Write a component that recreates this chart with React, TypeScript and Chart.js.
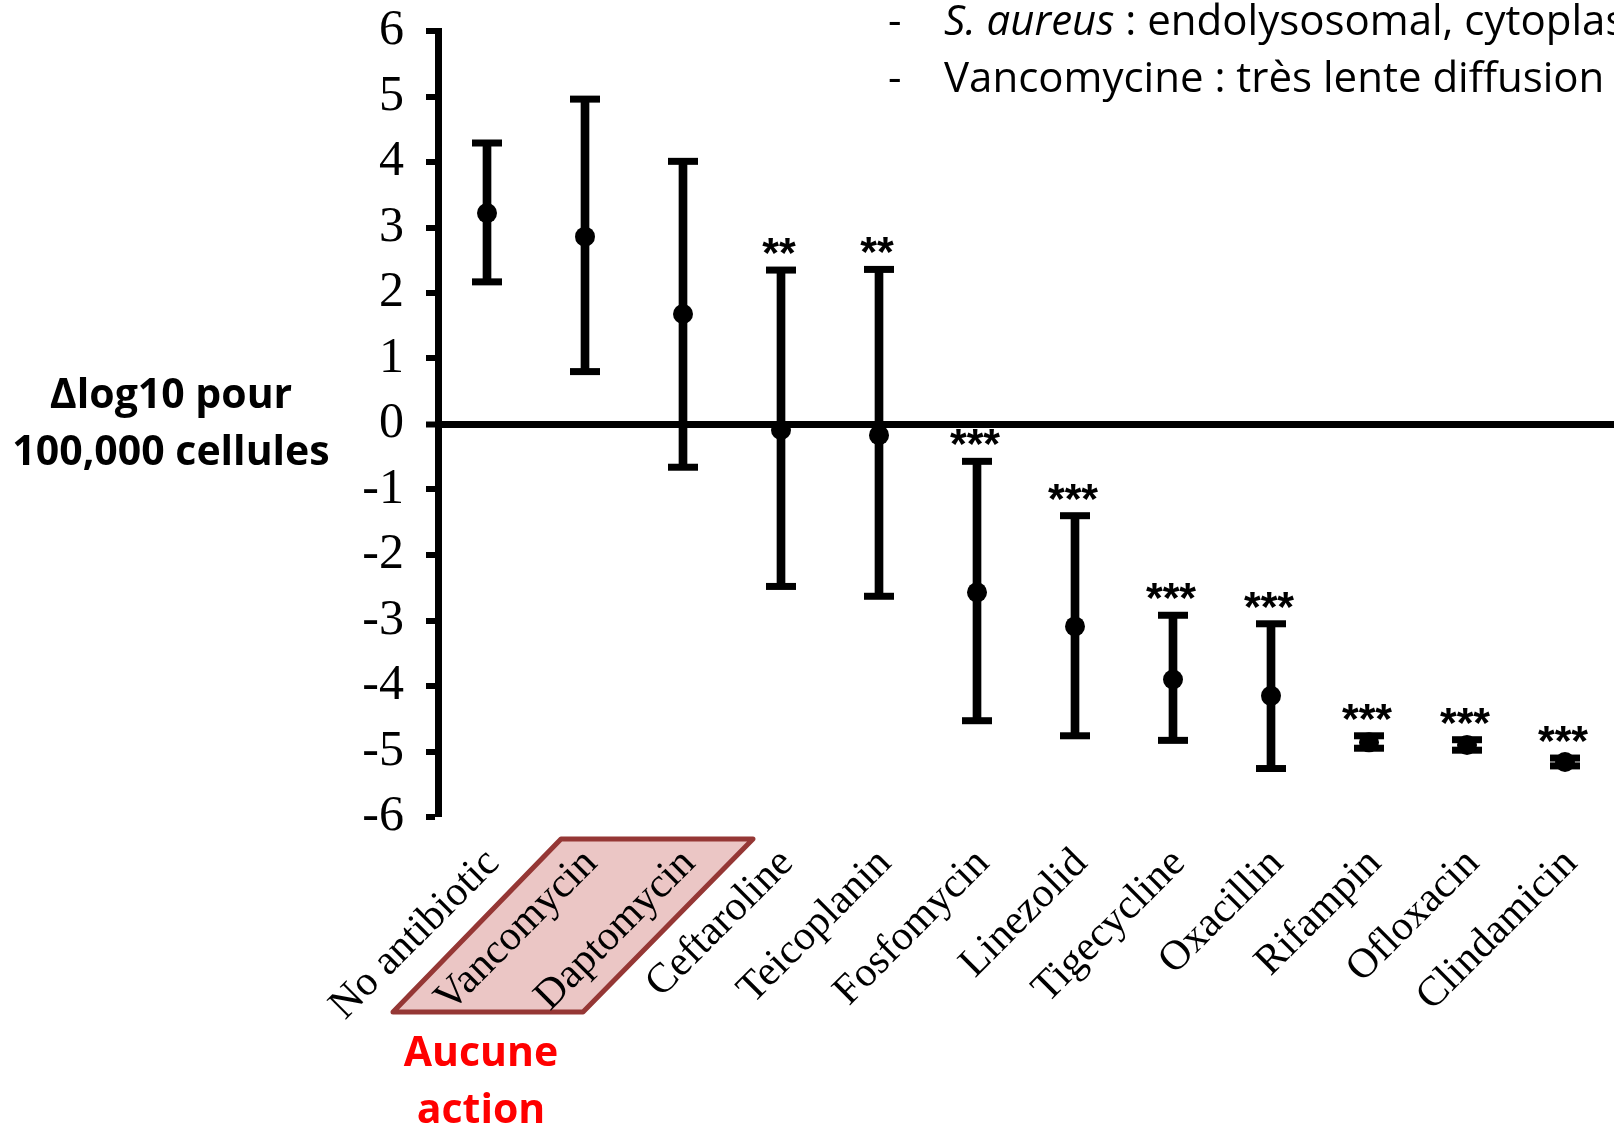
import React, { useEffect, useRef } from "react";
import { Chart, registerables } from "chart.js";

Chart.register(...registerables);

// ---- data ----
const categories = [
  "No antibiotic",
  "Vancomycin",
  "Daptomycin",
  "Ceftaroline",
  "Teicoplanin",
  "Fosfomycin",
  "Linezolid",
  "Tigecycline",
  "Oxacillin",
  "Rifampin",
  "Ofloxacin",
  "Clindamicin",
];
const means = [3.22, 2.86, 1.68, -0.09, -0.17, -2.57, -3.09, -3.9, -4.15, -4.86, -4.9, -5.16];
const upper = [4.29, 4.96, 4.01, 2.35, 2.36, -0.57, -1.4, -2.92, -3.05, -4.76, -4.82, -5.1];
const lower = [2.17, 0.8, -0.66, -2.48, -2.63, -4.53, -4.76, -4.83, -5.26, -4.95, -4.98, -5.22];
const significance = ["", "", "", "**", "**", "***", "***", "***", "***", "***", "***", "***"];
const yMin = -6;
const yMax = 6;
const yStep = 1;
const yTitleLines = ["\u0394log10 pour", "100,000 cellules"];
const noteLines = [
  { italic: "S. aureus", rest: " : endolysosomal, cytoplasmique" },
  { italic: "", rest: "Vancomycine : très lente diffusion" },
];
const noActionGroup = ["Vancomycin", "Daptomycin"];
const noActionLines = ["Aucune", "action"];

const SERIF = "'Times New Roman', 'Liberation Serif', serif";
const SANS = "'Open Sans', 'Noto Sans', sans-serif";

const decorations = {
  id: "decorations",
  beforeDraw(chart: any) {
    const { ctx, chartArea } = chart;
    const x = chart.scales.x;
    const xa = x.getPixelForValue(categories.indexOf(noActionGroup[0]));
    const xb = x.getPixelForValue(categories.indexOf(noActionGroup[1]));
    const top = chartArea.bottom + 22;
    const bot = chartArea.bottom + 195;
    ctx.save();
    ctx.beginPath();
    ctx.moveTo(xa - 24, top);
    ctx.lineTo(xb + 70, top);
    ctx.lineTo(xb - 100, bot);
    ctx.lineTo(xa - 192, bot);
    ctx.closePath();
    ctx.fillStyle = "#EBC6C5";
    ctx.fill();
    ctx.lineWidth = 5;
    ctx.lineJoin = "round";
    ctx.strokeStyle = "#953735";
    ctx.stroke();
    ctx.restore();
  },
  afterDraw(chart: any) {
    const { ctx, chartArea } = chart;
    const x = chart.scales.x;
    const y = chart.scales.y;
    ctx.save();

    // significance stars
    ctx.fillStyle = "#000";
    ctx.font = "bold 43px 'Liberation Sans', Arial, sans-serif";
    ctx.textAlign = "center";
    ctx.textBaseline = "alphabetic";
    significance.forEach((s, i) => {
      if (!s) return;
      const px = x.getPixelForValue(i) - 2;
      const py = y.getPixelForValue(upper[i]) - 3;
      ctx.fillText(s, px, py);
    });

    // y-axis title (horizontal, left)
    const zero = y.getPixelForValue(0);
    ctx.font = `bold 41px ${SANS}`;
    ctx.textAlign = "center";
    ctx.fillText(yTitleLines[0], 171, zero - 16);
    ctx.fillText(yTitleLines[1], 171, zero + 41);

    // "Aucune action"
    const xa = x.getPixelForValue(categories.indexOf(noActionGroup[0]));
    ctx.fillStyle = "#FF0000";
    ctx.font = `bold 41px ${SANS}`;
    ctx.fillText(noActionLines[0], xa - 104, chartArea.bottom + 249);
    ctx.fillText(noActionLines[1], xa - 104, chartArea.bottom + 306);

    // notes top right
    ctx.fillStyle = "#000";
    ctx.textAlign = "left";
    const baselines = [35, 92];
    noteLines.forEach((ln, i) => {
      ctx.font = `42px ${SANS}`;
      ctx.fillText("-", 888, baselines[i]);
      let cx = 944;
      if (ln.italic) {
        ctx.font = `italic 42px ${SANS}`;
        ctx.fillText(ln.italic, cx, baselines[i]);
        cx += ctx.measureText(ln.italic).width;
      }
      ctx.font = `42px ${SANS}`;
      ctx.fillText(ln.rest, cx, baselines[i]);
    });
    ctx.restore();
  },
};

export default function App() {
  const ref = useRef<HTMLCanvasElement | null>(null);
  useEffect(() => {
    if (!ref.current) return;
    const chart = new Chart(ref.current, {
      type: "bar",
      data: {
        labels: categories,
        datasets: [
          {
            type: "bar",
            data: lower.map((l, i) => [l, upper[i]]) as any,
            backgroundColor: "#000",
            borderWidth: 0,
            barThickness: 8,
            order: 3,
          } as any,
          {
            type: "line",
            data: upper,
            showLine: false,
            pointStyle: "line",
            pointRadius: 15,
            pointBorderWidth: 7,
            pointBorderColor: "#000",
            pointBackgroundColor: "#000",
            clip: false,
            order: 2,
          },
          {
            type: "line",
            data: lower,
            showLine: false,
            pointStyle: "line",
            pointRadius: 15,
            pointBorderWidth: 7,
            pointBorderColor: "#000",
            pointBackgroundColor: "#000",
            clip: false,
            order: 2,
          },
          {
            type: "line",
            data: means,
            showLine: false,
            pointStyle: "circle",
            pointRadius: 10,
            pointBorderWidth: 0,
            pointBackgroundColor: "#000",
            pointBorderColor: "#000",
            clip: false,
            order: 1,
          },
        ],
      },
      options: {
        responsive: false,
        animation: false,
        events: [],
        layout: { autoPadding: false, padding: { top: 31, left: 0, right: 0, bottom: 0 } },
        plugins: {
          legend: { display: false },
          tooltip: { enabled: false },
          title: { display: false },
        },
        scales: {
          x: {
            offset: true,
            grid: { display: false, drawTicks: false },
            border: { display: false },
            ticks: {
              autoSkip: false,
              minRotation: 45,
              maxRotation: 45,
              padding: 22,
              labelOffset: 6,
              color: "#000",
              font: { family: SERIF, size: 42 },
            },
            afterFit: (scale: any) => {
              scale.height = 309;
              scale.paddingLeft = 0;
              scale.paddingRight = 0;
            },
          },
          y: {
            min: yMin,
            max: yMax,
            ticks: {
              stepSize: yStep,
              padding: 22,
              color: "#000",
              font: { family: SERIF, size: 50 },
            },
            grid: {
              drawOnChartArea: true,
              color: (c: any) => (c.tick && c.tick.value === 0 ? "#000" : "rgba(0,0,0,0)"),
              lineWidth: (c: any) => (c.tick && c.tick.value === 0 ? 7 : 0),
              tickColor: "#000",
              tickWidth: 6,
              tickLength: 12,
            },
            border: { display: true, color: "#000", width: 7 },
            afterFit: (scale: any) => {
              scale.width = 438;
              scale.paddingTop = 0;
              scale.paddingBottom = 0;
            },
          },
        },
      },
      plugins: [decorations],
    });
    return () => chart.destroy();
  }, []);
  return (
    <div style={{ position: "absolute", left: 0, top: 0, width: 1614, height: 1126, background: "#fff" }}>
      <canvas ref={ref} width={1614} height={1126} style={{ display: "block" }} />
    </div>
  );
}
